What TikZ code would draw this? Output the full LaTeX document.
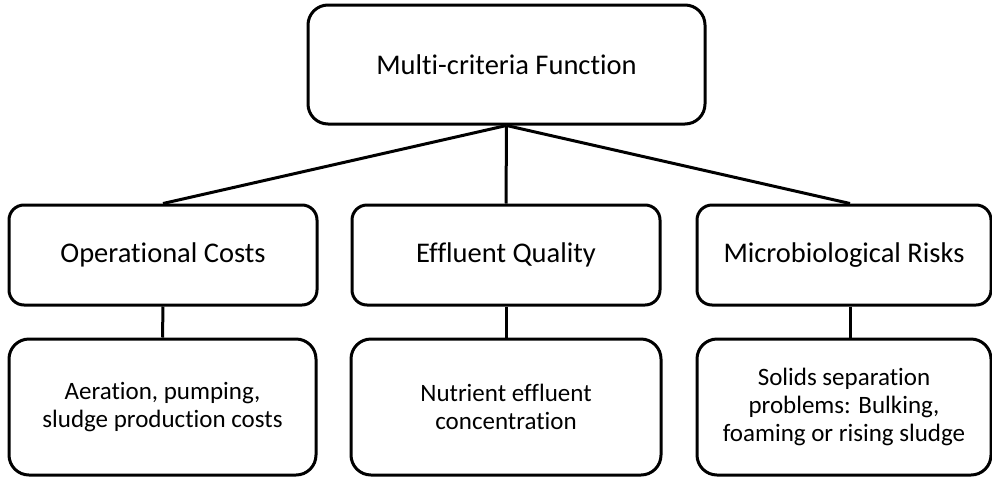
\documentclass[tikz,border=0pt]{standalone}
\usepackage{fontspec}
\setmainfont[Ligatures=NoCommon]{Carlito}

\begin{document}
\begin{tikzpicture}
[every node/.style={inner sep=0pt, align=center}]
\useasboundingbox (0pt, 0pt) rectangle (992pt, -477pt);
\node (top) [rectangle, rounded corners=20pt, minimum width=397pt, minimum height=119pt, line width=3pt, draw=black, font=\fontsize{28.5}{34}\selectfont] at (506.5pt, -64.5pt) {Multi-criteria Function};
\node (cost) [rectangle, rounded corners=15pt, minimum width=308pt, minimum height=100pt, line width=3pt, draw=black, font=\fontsize{28.5}{34}\selectfont] at (163pt, -255pt) {Operational Costs};
\node (quality) [rectangle, rounded corners=15pt, minimum width=308pt, minimum height=100pt, line width=3pt, draw=black, font=\fontsize{28.5}{34}\selectfont] at (506pt, -255pt) {Effluent Quality};
\node (risk) [rectangle, rounded corners=15pt, minimum width=294pt, minimum height=100pt, line width=3pt, draw=black, font=\fontsize{28.5}{34}\selectfont] at (844pt, -255pt) {Microbiological Risks};
\node (costd) [rectangle, rounded corners=20pt, minimum width=307pt, minimum height=136pt, line width=3pt, draw=black, font=\fontsize{25}{28}\selectfont] at (162.5pt, -407pt) {Aeration, pumping,\\sludge production costs};
\node (qualityd) [rectangle, rounded corners=20pt, minimum width=310pt, minimum height=136pt, line width=3pt, draw=black, font=\fontsize{25}{28}\selectfont] at (506pt, -407pt) {Nutrient effluent\\concentration};
\node (riskd) [rectangle, rounded corners=20pt, minimum width=294pt, minimum height=136pt, line width=3pt, draw=black, font=\fontsize{25}{28}\selectfont] at (844pt, -407pt) {Solids separation\\problems: Bulking,\\foaming or rising sludge};
\draw [line width=3pt, color=black] (top.south) to (cost.north);
\draw [line width=3pt, color=black] (top.south) to (quality.north);
\draw [line width=3pt, color=black] (top.south) to ([xshift=6pt]risk.north);
\draw [line width=3pt, color=black] (cost.south) to (costd.north);
\draw [line width=3pt, color=black] (quality.south) to (qualityd.north);
\draw [line width=3pt, color=black] ([xshift=6pt]risk.south) to ([xshift=6pt]riskd.north);
\end{tikzpicture}
\end{document}
